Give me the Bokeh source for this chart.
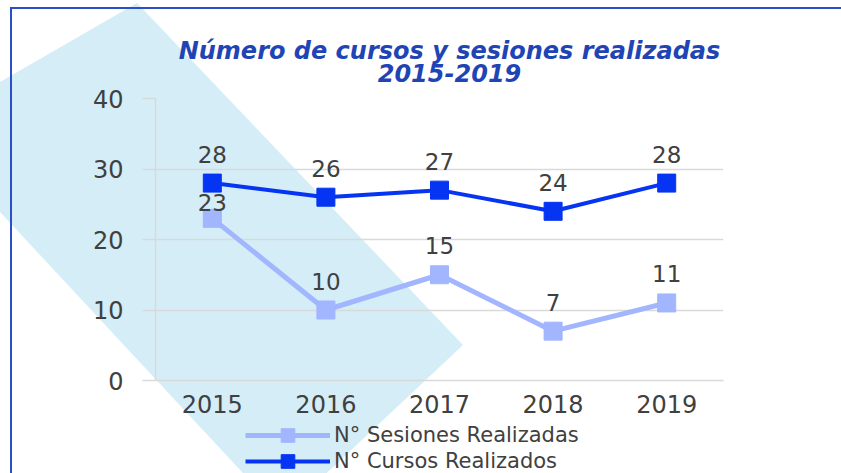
from bokeh.plotting import figure
from bokeh.models import (ColumnDataSource, FixedTicker, Legend, LegendItem,
                          Label, Range1d, FactorRange)
from bokeh.layouts import column
from bokeh.core.properties import value
from bokeh.embed import file_html
from bokeh.resources import INLINE

years = ["2015", "2016", "2017", "2018", "2019"]
cursos = [28, 26, 27, 24, 28]
sesiones = [23, 10, 15, 7, 11]
y_ticks = [0, 10, 20, 30, 40]
title_1 = "Número de cursos y sesiones realizadas"
title_2 = "2015-2019"
label_cursos = "N° Cursos Realizados"
label_sesiones = "N° Sesiones Realizadas"

# label placement (screen px above each point)
cursos_label_dy = [-29, -29, -29, -29, -29]
sesiones_label_dy = [-16, -29, -29, -29, -29]

C_CURSOS = "#0535f2"
C_SES = "#a2b6ff"
GRID = "#d9d9d9"
TXT = "#404040"
FONT = "DejaVu Sans"
TITLE_C = "#1f45b5"
W = 841
FL, FR = 155, 723  # frame left / right (page px)

# decorative background: watermark band and blue frame (page pixels)
deco_svg = (
    "<svg xmlns='http://www.w3.org/2000/svg' width='841' height='473'>"
    "<polygon points='137,3 463,345 282,515 0,212 0,82' fill='%23d4edf7'/>"
    "<polyline points='11,480 11,8 845,8' fill='none' stroke='%232b4fc7' stroke-width='2'/>"
    "</svg>"
)
styles = {
    "background-image": 'url("data:image/svg+xml;utf8,' + deco_svg + '")',
    "background-repeat": "no-repeat",
    "background-color": "white",
}


def strip(height, xr, yr):
    f = figure(width=W, height=height, x_range=xr, y_range=yr,
               output_backend="svg", toolbar_location=None,
               x_axis_type=None, y_axis_type=None,
               min_border_left=FL, min_border_right=W - FR,
               min_border_top=0, min_border_bottom=0)
    f.grid.visible = False
    f.outline_line_color = None
    f.background_fill_color = None
    f.border_fill_color = None
    return f


src = ColumnDataSource(dict(x=years, c=cursos, s=sesiones,
                            ct=[str(v) for v in cursos],
                            st=[str(v) for v in sesiones],
                            cdy=cursos_label_dy, sdy=sesiones_label_dy))

# ---- title strip ----
p_top = strip(86, Range1d(FL, FR), Range1d(86, 0))
for txt, yy in ((title_1, 50), (title_2, 72)):
    p_top.add_layout(Label(x=449, y=yy, text=txt, text_align="center",
                           text_baseline="middle", text_font=FONT,
                           text_font_size="24px", text_font_style="bold italic",
                           text_color=TITLE_C))

# ---- main chart ----
p = figure(x_range=years, y_range=(0, 40), width=W, height=334,
           output_backend="svg", toolbar_location=None,
           min_border_left=FL, min_border_right=W - FR,
           min_border_top=12, min_border_bottom=40)
p.x_range.range_padding = 0
p.outline_line_color = None
p.background_fill_color = None
p.border_fill_color = None

p.yaxis.ticker = FixedTicker(ticks=y_ticks)
p.ygrid.grid_line_color = GRID
p.ygrid.grid_line_width = 1.5
p.xgrid.grid_line_color = None
p.yaxis.axis_line_color = GRID
p.yaxis.axis_line_width = 1.5
p.yaxis.major_tick_line_color = GRID
p.yaxis.major_tick_line_width = 1.5
p.yaxis.major_tick_out = 13
p.yaxis.major_tick_in = 0
p.yaxis.minor_tick_line_color = None
p.yaxis.major_label_standoff = 19
p.xaxis.axis_line_color = GRID
p.xaxis.axis_line_width = 1.5
p.xaxis.major_tick_line_color = None
p.xaxis.major_tick_out = 0
p.xaxis.minor_tick_line_color = None
p.xaxis.major_label_standoff = 14
for ax in (p.xaxis, p.yaxis):
    ax.major_label_text_font = FONT
    ax.major_label_text_font_size = "24px"
    ax.major_label_text_color = TXT

p.line("x", "s", source=src, line_color=C_SES, line_width=5)
p.scatter("x", "s", source=src, marker="square", size=18,
          fill_color=C_SES, line_color=C_SES)
p.line("x", "c", source=src, line_color=C_CURSOS, line_width=4)
p.scatter("x", "c", source=src, marker="square", size=18,
          fill_color=C_CURSOS, line_color=C_CURSOS)

for col, t, dy in (("s", "st", "sdy"), ("c", "ct", "cdy")):
    p.text("x", col, text=t, source=src, text_font=value(FONT),
           text_font_size="23px", text_color=TXT, text_align="center",
           text_baseline="middle", y_offset=dy)

# ---- legend strip (series kept out of view; only legend shows) ----
p_leg = strip(53, FactorRange(*years), Range1d(-100, -90))
ls = p_leg.line("x", "s", source=src, line_color=C_SES, line_width=5)
ms = p_leg.scatter("x", "s", source=src, marker="square",
                   fill_color=C_SES, line_color=C_SES)
lc = p_leg.line("x", "c", source=src, line_color=C_CURSOS, line_width=4)
mc = p_leg.scatter("x", "c", source=src, marker="square",
                   fill_color=C_CURSOS, line_color=C_CURSOS)
for lab, rends, loc in ((label_sesiones, [ls, ms], (90, 21)),
                        (label_cursos, [lc, mc], (90, -5))):
    p_leg.add_layout(Legend(items=[LegendItem(label=lab, renderers=rends)],
                            location=loc, glyph_width=85, glyph_height=34,
                            label_height=34, padding=0, margin=0,
                            label_standoff=4, border_line_color=None,
                            background_fill_alpha=0, label_text_font=FONT,
                            label_text_font_size="21px", label_text_color=TXT))

layout = column(p_top, p, p_leg, spacing=0, styles=styles)
open("out.html", "w").write(file_html(layout, INLINE))
